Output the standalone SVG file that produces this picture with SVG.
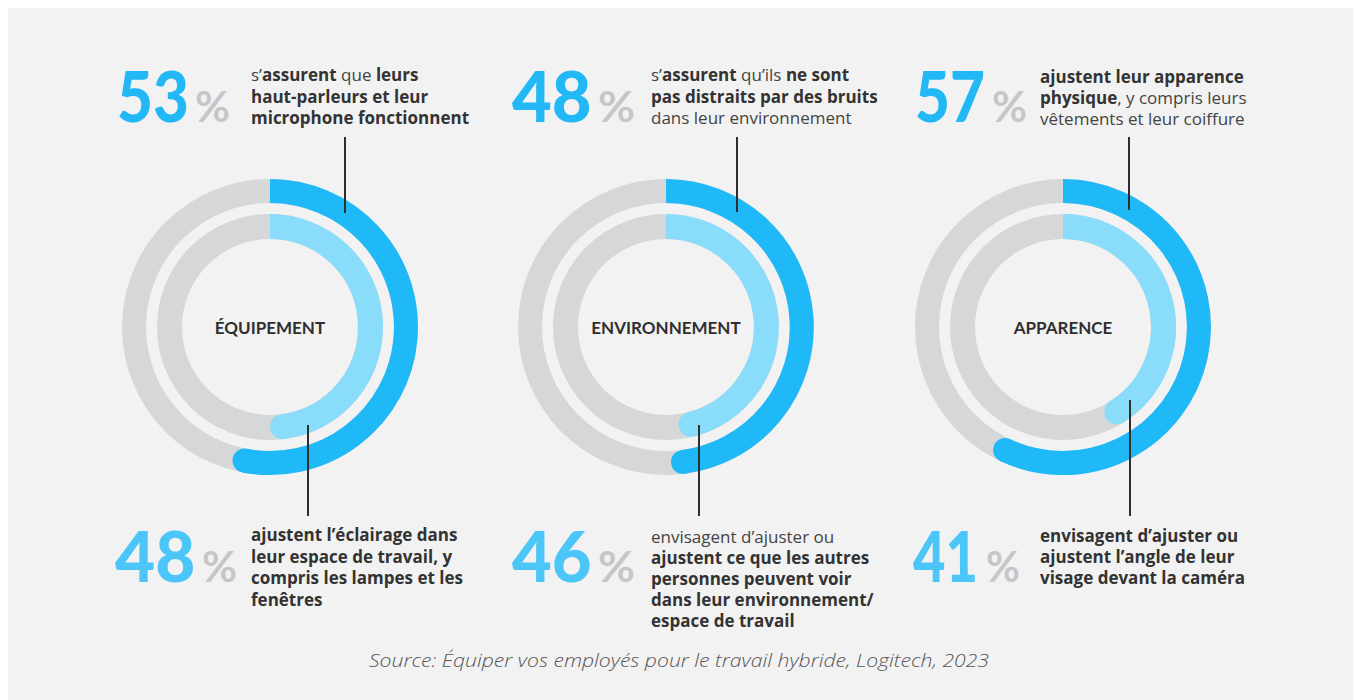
<svg xmlns="http://www.w3.org/2000/svg" width="1353" height="700" viewBox="0 0 1353 700">
<style>
.bg{fill:#f2f2f2}
.track-o{fill:none;stroke:#d6d7d9;stroke-width:24}
.track-i{fill:none;stroke:#d6d7d9;stroke-width:25}
.arc-o{fill:none;stroke:#1fb9f8;stroke-width:24}
.arc-i{fill:none;stroke:#8adcfb;stroke-width:25}
.cap-o{fill:#1fb9f8}
.cap-i{fill:#8adcfb}
.big{font-family:Lato,"Noto Sans",sans-serif;font-weight:900;font-size:70px}
.big-top{fill:#22b8f6}
.big-bot{fill:#4cc6f8}
.pct{font-family:Lato,"Noto Sans",sans-serif;font-weight:700;font-size:42px;fill:#c6c6c8}
.desc{font-family:"Open Sans","Noto Sans",sans-serif;font-size:17px;fill:#3a3a3a}
.b{font-weight:700;fill:#333333}
.r{font-weight:400;fill:#444444}
.label{font-family:Lato,"Noto Sans",sans-serif;font-weight:700;font-size:17px;fill:#2f2f2f;text-anchor:middle}
.lead{stroke:#2e2e2e;stroke-width:2;fill:none}
.src{font-family:"Open Sans","Noto Sans",sans-serif;font-style:italic;font-weight:300;font-size:18px;fill:#555555}
</style>
<rect x="0" y="0" width="1353" height="700" fill="#ffffff"/>
<rect class="bg" x="8" y="8" width="1345" height="692"/>

<g id="node-equipement">
  <circle class="track-o" cx="270" cy="327" r="136"/>
  <circle class="track-i" cx="270" cy="327" r="100.5"/>
  <path class="arc-o" d="M270 191 A136 136 0 1 1 244.5 460.6"/>
  <circle class="cap-o" cx="244.5" cy="460.6" r="12"/>
  <path class="arc-i" d="M270 226.5 A100.5 100.5 0 0 1 282.6 426.7"/>
  <circle class="cap-i" cx="282.6" cy="426.7" r="12.5"/>
  <text class="label" x="270" y="334">ÉQUIPEMENT</text>
  <text class="big big-top" transform="translate(117 122) scale(0.887 1)">53</text>
  <text class="pct" x="195" y="122" textLength="35" lengthAdjust="spacingAndGlyphs">%</text>
  <text class="desc" x="251" y="81"><tspan class="r">s’</tspan><tspan class="b">assurent</tspan><tspan class="r"> que </tspan><tspan class="b">leurs</tspan></text>
  <text class="desc b" x="251" y="102.5">haut-parleurs et leur</text>
  <text class="desc b" x="251" y="124">microphone fonctionnent</text>
  <text class="big big-bot" transform="translate(115 582) scale(0.99 1)">48</text>
  <text class="pct" x="202" y="582" textLength="35" lengthAdjust="spacingAndGlyphs">%</text>
  <text class="desc b" x="251" y="541">ajustent l’éclairage dans</text>
  <text class="desc b" x="251" y="562.5">leur espace de travail, y</text>
  <text class="desc b" x="251" y="584">compris les lampes et les</text>
  <text class="desc b" x="251" y="605.5">fenêtres</text>
</g>

<g id="node-environnement">
  <circle class="track-o" cx="666" cy="327" r="136"/>
  <circle class="track-i" cx="666" cy="327" r="100.5"/>
  <path class="arc-o" d="M666 191 A136 136 0 0 1 683 461.9"/>
  <circle class="cap-o" cx="683" cy="461.9" r="12"/>
  <path class="arc-i" d="M666 226.5 A100.5 100.5 0 0 1 691 424.3"/>
  <circle class="cap-i" cx="691" cy="424.3" r="12.5"/>
  <text class="label" x="666" y="334">ENVIRONNEMENT</text>
  <text class="big big-top" transform="translate(512 122) scale(0.98 1)">48</text>
  <text class="pct" x="598" y="122" textLength="37" lengthAdjust="spacingAndGlyphs">%</text>
  <text class="desc" x="651" y="81"><tspan class="r">s’</tspan><tspan class="b">assurent</tspan><tspan class="r"> qu’ils </tspan><tspan class="b">ne sont</tspan></text>
  <text class="desc b" x="651" y="102.5">pas distraits par des bruits</text>
  <text class="desc r" x="651" y="124">dans leur environnement</text>
  <text class="big big-bot" transform="translate(512 582) scale(0.98 1)">46</text>
  <text class="pct" x="598" y="582" textLength="37" lengthAdjust="spacingAndGlyphs">%</text>
  <text class="desc r" x="651" y="543">envisagent d’ajuster ou</text>
  <text class="desc b" x="651" y="564">ajustent ce que les autres</text>
  <text class="desc b" x="651" y="585">personnes peuvent voir</text>
  <text class="desc b" x="651" y="606">dans leur environnement/</text>
  <text class="desc b" x="651" y="627">espace de travail</text>
</g>

<g id="node-apparence">
  <circle class="track-o" cx="1063" cy="327" r="136"/>
  <circle class="track-i" cx="1063" cy="327" r="100.5"/>
  <path class="arc-o" d="M1063 191 A136 136 0 1 1 1005.1 450.1"/>
  <circle class="cap-o" cx="1005.1" cy="450.1" r="12"/>
  <path class="arc-i" d="M1063 226.5 A100.5 100.5 0 0 1 1116.85 411.85"/>
  <circle class="cap-i" cx="1116.85" cy="411.85" r="12.5"/>
  <text class="label" x="1063" y="334">APPARENCE</text>
  <text class="big big-top" transform="translate(915 122) scale(0.862 1)">57</text>
  <text class="pct" x="992" y="122" textLength="35" lengthAdjust="spacingAndGlyphs">%</text>
  <text class="desc b" x="1040" y="83">ajustent leur apparence</text>
  <text class="desc" x="1040" y="104"><tspan class="b">physique</tspan><tspan class="r">, y compris leurs</tspan></text>
  <text class="desc r" x="1040" y="125">vêtements et leur coiffure</text>
  <text class="big big-bot" transform="translate(913 582) scale(0.80 1)">41</text>
  <text class="pct" x="986" y="582" textLength="34" lengthAdjust="spacingAndGlyphs">%</text>
  <text class="desc b" x="1040" y="542">envisagent d’ajuster ou</text>
  <text class="desc b" x="1040" y="563">ajustent l’angle de leur</text>
  <text class="desc b" x="1040" y="584">visage devant la caméra</text>
</g>

<g id="connectors">
  <line class="lead" x1="345" y1="137" x2="345" y2="213"/>
  <line class="lead" x1="308" y1="425" x2="308" y2="516"/>
  <line class="lead" x1="737" y1="137" x2="737" y2="212"/>
  <line class="lead" x1="699" y1="425" x2="699" y2="516"/>
  <line class="lead" x1="1129" y1="137" x2="1129" y2="210"/>
  <line class="lead" x1="1130" y1="400" x2="1130" y2="516"/>
</g>

<text class="src" x="369" y="667" textLength="620" lengthAdjust="spacingAndGlyphs">Source: Équiper vos employés pour le travail hybride, Logitech, 2023</text>
</svg>
